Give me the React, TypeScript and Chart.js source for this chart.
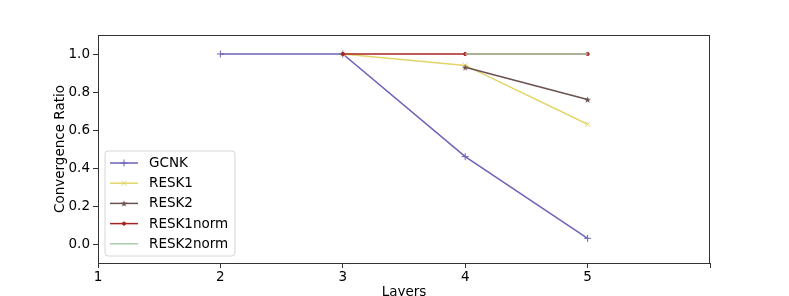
import React, { useEffect, useRef } from "react";
import { Chart, registerables } from "chart.js";
import { drawPoint } from "chart.js/helpers";

Chart.register(...registerables);

const seriesNames = ["GCNK", "RESK1", "RESK2", "RESK1norm", "RESK2norm"];
const gcnkLayers = [2, 3, 4, 5];
const gcnkValues = [1.0, 1.0, 0.46, 0.03];
const resk1Layers = [3, 4, 5];
const resk1Values = [1.0, 0.94, 0.63];
const resk2Layers = [4, 5];
const resk2Values = [0.93, 0.76];
const resk1normLayers = [3, 4, 5];
const resk1normValues = [1.0, 1.0, 1.0];
const resk2normLayers = [4, 5];
const resk2normValues = [1.0, 1.0];
const xTickValues = [1, 2, 3, 4, 5, 6];
const xTickLabels = ["1", "2", "3", "4", "5", ""];
const yTickValues = [0, 0.2, 0.4, 0.6, 0.8, 1.0];

const colors = ["#6b63b8", "#e2d56a", "#6b5050", "#a82424", "#a9cea9"];
const FONT = "'DejaVu Sans', sans-serif";
const FS = 13.5;

function makeStar(color: string, size: number) {
  const c = document.createElement("canvas");
  c.width = size;
  c.height = size;
  const ctx = c.getContext("2d")!;
  const cx = size / 2, cy = size / 2 + 0.4;
  const R = size / 2, r = R * 0.42;
  ctx.beginPath();
  for (let i = 0; i < 10; i++) {
    const rad = i % 2 === 0 ? R : r;
    const a = -Math.PI / 2 + (i * Math.PI) / 5;
    const px = cx + rad * Math.cos(a);
    const py = cy + rad * Math.sin(a);
    if (i === 0) ctx.moveTo(px, py);
    else ctx.lineTo(px, py);
  }
  ctx.closePath();
  ctx.fillStyle = color;
  ctx.fill();
  return c;
}

function pts(xs: number[], ys: number[]) {
  return xs.map((x, i) => ({ x, y: ys[i] }));
}

export default function App() {
  const ref = useRef<HTMLCanvasElement | null>(null);
  useEffect(() => {
    const star = makeStar(colors[2], 7);
    const styles: any[] = [
      { pointStyle: "cross", radius: 3.5 },
      { pointStyle: "crossRot", radius: 3.5 },
      { pointStyle: star, radius: 3.5 },
      { pointStyle: "circle", radius: 1.6 },
      { pointStyle: "circle", radius: 0 },
    ];
    const dataSets = [
      pts(gcnkLayers, gcnkValues),
      pts(resk1Layers, resk1Values),
      pts(resk2Layers, resk2Values),
      pts(resk1normLayers, resk1normValues),
      pts(resk2normLayers, resk2normValues),
    ];

    const framePlugin = {
      id: "frame",
      afterDraw(chart: any) {
        const { ctx, chartArea: a } = chart;
        ctx.save();
        ctx.strokeStyle = "#333";
        ctx.lineWidth = 1;
        ctx.strokeRect(a.left + 0.5, a.top + 0.5, a.right - a.left - 1, a.bottom - a.top);
        ctx.restore();
      },
    };

    const legendPlugin = {
      id: "mplLegend",
      afterDatasetsDraw(chart: any) {
        const ctx = chart.ctx;
        const a = chart.chartArea;
        const x0 = a.left + 7, y0 = 151, w = 130, h = 105, r = 3;
        ctx.save();
        ctx.beginPath();
        ctx.moveTo(x0 + r, y0);
        ctx.arcTo(x0 + w, y0, x0 + w, y0 + h, r);
        ctx.arcTo(x0 + w, y0 + h, x0, y0 + h, r);
        ctx.arcTo(x0, y0 + h, x0, y0, r);
        ctx.arcTo(x0, y0, x0 + w, y0, r);
        ctx.closePath();
        ctx.fillStyle = "rgba(255,255,255,0.85)";
        ctx.fill();
        ctx.strokeStyle = "#d6d6d6";
        ctx.lineWidth = 1;
        ctx.stroke();
        seriesNames.forEach((name, i) => {
          const y = 163 + i * 20.2;
          ctx.strokeStyle = colors[i];
          ctx.lineWidth = 1.5;
          ctx.beginPath();
          ctx.moveTo(x0 + 5, y);
          ctx.lineTo(x0 + 33, y);
          ctx.stroke();
          const st = styles[i];
          if (st.radius > 0) {
            ctx.fillStyle = colors[i];
            ctx.strokeStyle = colors[i];
            ctx.lineWidth = 1;
            drawPoint(ctx, { pointStyle: st.pointStyle, radius: st.radius, rotation: 0, borderWidth: 1 } as any, x0 + 19, y);
          }
          ctx.fillStyle = "#000";
          ctx.font = `${FS}px ${FONT}`;
          ctx.textBaseline = "middle";
          ctx.textAlign = "left";
          ctx.fillText(name, x0 + 44, y + 0.5);
        });
        ctx.restore();
      },
    };

    const chart = new Chart(ref.current!, {
      type: "line",
      data: {
        datasets: seriesNames.map((name, i) => ({
          label: name,
          data: dataSets[i],
          order: -i,
          borderColor: colors[i],
          backgroundColor: colors[i],
          borderWidth: 1.5,
          pointStyle: styles[i].pointStyle,
          pointRadius: styles[i].radius,
          pointBorderWidth: 1,
          pointBorderColor: colors[i],
          pointBackgroundColor: colors[i],
          fill: false,
          tension: 0,
        })),
      },
      options: {
        animation: false,
        responsive: true,
        maintainAspectRatio: false,
        layout: { padding: { top: 35, right: 79, left: 0, bottom: 0 } },
        plugins: { legend: { display: false }, tooltip: { enabled: false } },
        scales: {
          x: {
            type: "linear",
            min: 1,
            max: 6,
            afterBuildTicks: (s: any) => {
              s.ticks = xTickValues.map((v) => ({ value: v }));
            },
            afterFit: (s: any) => {
              s.height = 33;
            },
            ticks: {
              autoSkip: false,
              maxRotation: 0,
              padding: 1,
              color: "#000",
              font: { family: FONT, size: FS },
              callback: (v: any) => xTickLabels[xTickValues.indexOf(Number(v))] ?? "",
            },
            grid: { drawOnChartArea: false, drawTicks: true, tickLength: 5, color: "#333" },
            border: { display: false },
            title: {
              display: true,
              text: "Layers",
              color: "#000",
              font: { family: FONT, size: FS },
              padding: { top: 0, bottom: -5 },
            },
          },
          y: {
            type: "linear",
            min: -0.1,
            max: 1.1,
            afterBuildTicks: (s: any) => {
              s.ticks = yTickValues.map((v) => ({ value: v }));
            },
            afterFit: (s: any) => {
              s.width = 98;
            },
            ticks: {
              padding: 3,
              color: "#000",
              font: { family: FONT, size: FS },
              callback: (v: any) => Number(v).toFixed(1),
            },
            grid: { drawOnChartArea: false, drawTicks: true, tickLength: 5, color: "#333" },
            border: { display: false },
            title: {
              display: true,
              text: "Convergence Ratio",
              color: "#000",
              font: { family: FONT, size: FS },
              padding: { top: 52, bottom: 0 },
            },
          },
        },
      },
      plugins: [framePlugin, legendPlugin],
    } as any);
    return () => chart.destroy();
  }, []);

  return (
    <div style={{ position: "fixed", left: 0, top: 0, width: 789, height: 296, background: "#fff" }}>
      <canvas ref={ref} />
    </div>
  );
}
